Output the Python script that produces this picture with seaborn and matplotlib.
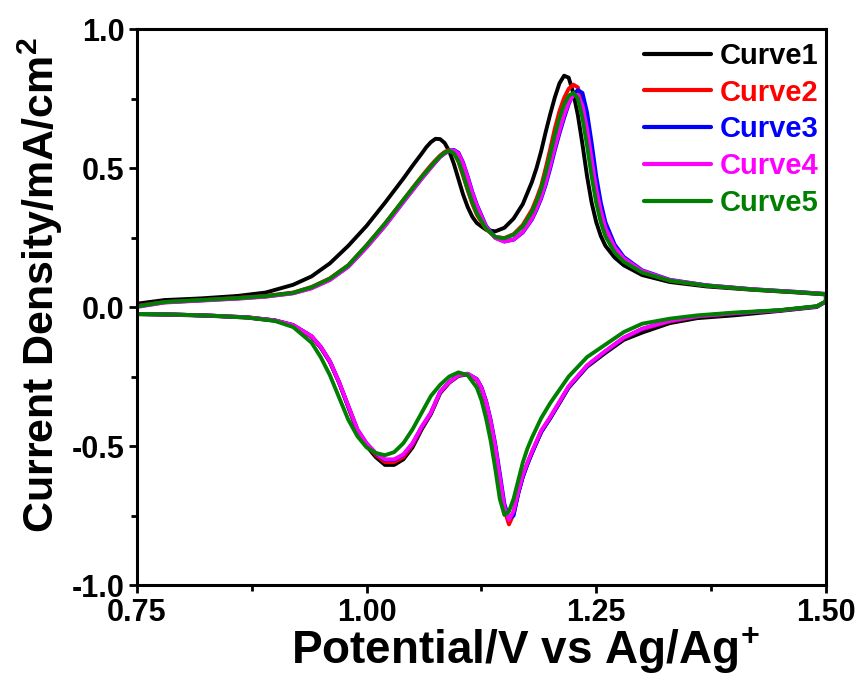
import numpy as np
import pandas as pd
import matplotlib
matplotlib.use("Agg")
import matplotlib.pyplot as plt
import seaborn as sns
from matplotlib.ticker import MultipleLocator

# ---------------- data ----------------
curve_names = ["Curve1", "Curve2", "Curve3", "Curve4", "Curve5"]
curve_colors = ["#000000", "#FF0000", "#0000FF", "#FF00FF", "#008000"]

# forward (anodic) scan potentials, V
pot_fwd = [0.75, 0.78, 0.82, 0.86, 0.89, 0.92, 0.94, 0.96, 0.98, 1.00, 1.02, 1.04,
           1.05, 1.055, 1.06, 1.065, 1.07, 1.075, 1.08, 1.085, 1.09, 1.095, 1.10, 1.105,
           1.11, 1.115, 1.12,
           1.13, 1.14, 1.15, 1.16, 1.17, 1.18,
           1.185, 1.19, 1.195, 1.20, 1.205, 1.21, 1.215, 1.22, 1.225, 1.23, 1.235, 1.24,
           1.245, 1.25, 1.255, 1.26,
           1.27, 1.28, 1.30, 1.33, 1.37, 1.42, 1.47, 1.50]

# reverse (cathodic) scan potentials, V
pot_rev = [1.50, 1.49, 1.45, 1.40, 1.36, 1.33, 1.30, 1.28, 1.26, 1.24,
           1.22, 1.20, 1.19, 1.18, 1.175, 1.17, 1.165, 1.16, 1.155, 1.15,
           1.145, 1.14, 1.135, 1.13, 1.125, 1.12, 1.11, 1.10, 1.09, 1.08,
           1.07, 1.06, 1.05, 1.04, 1.03, 1.02, 1.01, 1.00, 0.99, 0.98,
           0.97, 0.96, 0.95, 0.94, 0.92, 0.90, 0.87, 0.83, 0.79, 0.75]

# current density, mA/cm2 -- forward scans
curve1_fwd = [0.012, 0.025, 0.031, 0.040, 0.052, 0.080, 0.110, 0.157, 0.220, 0.292, 0.375, 0.462,
              0.508, 0.530, 0.552, 0.575, 0.593, 0.605, 0.604, 0.590, 0.560, 0.515, 0.460, 0.405,
              0.360, 0.325, 0.302,
              0.278, 0.272, 0.285, 0.318, 0.370, 0.450,
              0.500, 0.560, 0.630, 0.695, 0.755, 0.805, 0.832, 0.825, 0.770, 0.690, 0.585, 0.470,
              0.375, 0.305, 0.255, 0.220,
              0.178, 0.150, 0.115, 0.090, 0.074, 0.062, 0.052, 0.045]
curve2_fwd = [0.004, 0.018, 0.025, 0.033, 0.040, 0.052, 0.072, 0.103, 0.150, 0.222, 0.300, 0.385,
              0.428, 0.449, 0.470, 0.490, 0.510, 0.528, 0.545, 0.558, 0.565, 0.555, 0.522, 0.472,
              0.420, 0.372, 0.332,
              0.280, 0.252, 0.248, 0.262, 0.295, 0.350,
              0.390, 0.435, 0.500, 0.570, 0.643, 0.705, 0.752, 0.785, 0.800, 0.790, 0.725, 0.615,
              0.490, 0.385, 0.310, 0.258,
              0.198, 0.165, 0.125, 0.095, 0.077, 0.063, 0.053, 0.046]
curve3_fwd = [0.002, 0.017, 0.024, 0.031, 0.038, 0.050, 0.068, 0.098, 0.145, 0.215, 0.292, 0.378,
              0.420, 0.441, 0.462, 0.482, 0.502, 0.521, 0.540, 0.553, 0.562, 0.565, 0.555, 0.520,
              0.470, 0.415, 0.368,
              0.292, 0.250, 0.236, 0.242, 0.268, 0.315,
              0.350, 0.390, 0.440, 0.500, 0.565, 0.625, 0.680, 0.730, 0.765, 0.780, 0.770, 0.700,
              0.590, 0.470, 0.375, 0.305,
              0.225, 0.180, 0.132, 0.098, 0.078, 0.064, 0.054, 0.047]
curve4_fwd = [0.000, 0.016, 0.023, 0.030, 0.037, 0.049, 0.067, 0.097, 0.145, 0.215, 0.292, 0.378,
              0.420, 0.441, 0.462, 0.482, 0.502, 0.521, 0.540, 0.552, 0.561, 0.563, 0.552, 0.516,
              0.466, 0.411, 0.364,
              0.289, 0.248, 0.235, 0.243, 0.270, 0.318,
              0.355, 0.395, 0.448, 0.510, 0.575, 0.635, 0.690, 0.735, 0.762, 0.762, 0.725, 0.640,
              0.530, 0.425, 0.345, 0.285,
              0.215, 0.175, 0.130, 0.097, 0.078, 0.064, 0.054, 0.047]
curve5_fwd = [0.002, 0.018, 0.025, 0.032, 0.039, 0.051, 0.071, 0.102, 0.150, 0.222, 0.300, 0.385,
              0.427, 0.448, 0.468, 0.487, 0.506, 0.525, 0.542, 0.555, 0.562, 0.553, 0.525, 0.478,
              0.425, 0.378, 0.337,
              0.282, 0.252, 0.247, 0.260, 0.290, 0.342,
              0.380, 0.425, 0.485, 0.550, 0.620, 0.680, 0.728, 0.760, 0.770, 0.750, 0.680, 0.580,
              0.470, 0.375, 0.305, 0.255,
              0.196, 0.163, 0.124, 0.095, 0.077, 0.063, 0.053, 0.046]

# current density, mA/cm2 -- reverse scans
curve1_rev = [0.020, 0.000, -0.014, -0.030, -0.040, -0.058, -0.092, -0.118, -0.165, -0.215,
              -0.290, -0.400, -0.450, -0.525, -0.565, -0.610, -0.670, -0.740, -0.772, -0.728,
              -0.615, -0.505, -0.415, -0.345, -0.293, -0.262, -0.242, -0.248, -0.272, -0.310,
              -0.385, -0.440, -0.505, -0.548, -0.568, -0.568, -0.540, -0.500, -0.447, -0.360,
              -0.272, -0.198, -0.146, -0.107, -0.066, -0.049, -0.038, -0.032, -0.028, -0.026]
curve2_rev = [0.020, 0.002, -0.012, -0.023, -0.034, -0.052, -0.080, -0.112, -0.160, -0.212,
              -0.287, -0.398, -0.448, -0.523, -0.563, -0.608, -0.670, -0.745, -0.782, -0.730,
              -0.612, -0.502, -0.412, -0.342, -0.291, -0.261, -0.241, -0.246, -0.271, -0.307,
              -0.382, -0.435, -0.497, -0.540, -0.558, -0.558, -0.532, -0.495, -0.443, -0.357,
              -0.271, -0.196, -0.144, -0.106, -0.065, -0.048, -0.037, -0.031, -0.027, -0.025]
curve3_rev = [0.020, 0.002, -0.012, -0.022, -0.033, -0.050, -0.079, -0.111, -0.160, -0.212,
              -0.288, -0.398, -0.450, -0.525, -0.566, -0.612, -0.672, -0.750, -0.762, -0.708,
              -0.598, -0.492, -0.405, -0.337, -0.288, -0.259, -0.240, -0.244, -0.270, -0.306,
              -0.381, -0.432, -0.492, -0.532, -0.550, -0.550, -0.527, -0.491, -0.441, -0.356,
              -0.270, -0.195, -0.143, -0.105, -0.065, -0.048, -0.037, -0.031, -0.027, -0.025]
curve4_rev = [0.020, 0.002, -0.012, -0.022, -0.033, -0.050, -0.078, -0.110, -0.158, -0.210,
              -0.285, -0.395, -0.445, -0.520, -0.560, -0.605, -0.665, -0.735, -0.765, -0.720,
              -0.610, -0.500, -0.410, -0.340, -0.290, -0.260, -0.240, -0.245, -0.270, -0.305,
              -0.380, -0.430, -0.490, -0.530, -0.548, -0.548, -0.525, -0.490, -0.440, -0.355,
              -0.270, -0.195, -0.143, -0.105, -0.065, -0.048, -0.037, -0.031, -0.027, -0.025]
curve5_rev = [0.020, 0.003, -0.011, -0.020, -0.030, -0.042, -0.060, -0.090, -0.135, -0.180,
              -0.250, -0.345, -0.400, -0.470, -0.510, -0.560, -0.625, -0.690, -0.735, -0.748,
              -0.690, -0.580, -0.480, -0.400, -0.335, -0.290, -0.245, -0.235, -0.250, -0.280,
              -0.320, -0.380, -0.440, -0.490, -0.522, -0.533, -0.525, -0.505, -0.465, -0.405,
              -0.325, -0.245, -0.180, -0.128, -0.072, -0.050, -0.038, -0.031, -0.027, -0.025]

x_ticks = [0.75, 1.00, 1.25, 1.50]
x_tick_labels = ["0.75", "1.00", "1.25", "1.50"]
y_ticks = [-1.0, -0.5, 0.0, 0.5, 1.0]
y_tick_labels = ["-1.0", "-0.5", "0.0", "0.5", "1.0"]

fwd_all = [curve1_fwd, curve2_fwd, curve3_fwd, curve4_fwd, curve5_fwd]
rev_all = [curve1_rev, curve2_rev, curve3_rev, curve4_rev, curve5_rev]

# ---------------- build long table (closed CV loops) ----------------
rows = []
for name, fwd, rev in zip(curve_names, fwd_all, rev_all):
    pots = list(pot_fwd) + list(pot_rev) + [pot_fwd[0]]
    curs = list(fwd) + list(rev) + [fwd[0]]
    for i, (p, c) in enumerate(zip(pots, curs)):
        rows.append({"Potential": p, "Current": c, "Curve": name, "order": i})
df = pd.DataFrame(rows)

# ---------------- style ----------------
sns.set_style("ticks")
plt.rcParams["font.family"] = ["Liberation Sans", "DejaVu Sans"]
plt.rcParams["font.weight"] = "bold"
plt.rcParams["text.color"] = "black"
plt.rcParams["axes.labelcolor"] = "black"
plt.rcParams["xtick.color"] = "black"
plt.rcParams["ytick.color"] = "black"
plt.rcParams["mathtext.fontset"] = "custom"
plt.rcParams["mathtext.rm"] = "Liberation Sans:bold"
plt.rcParams["mathtext.bf"] = "Liberation Sans:bold"
plt.rcParams["mathtext.it"] = "Liberation Sans:bold"
plt.rcParams["mathtext.default"] = "bf"

fig = plt.figure(figsize=(8.63, 6.84), dpi=100)
ax = fig.add_axes([0.1587, 0.1447, 0.7983, 0.8129])

sns.lineplot(data=df, x="Potential", y="Current", hue="Curve",
             hue_order=curve_names, palette=curve_colors,
             estimator=None, sort=False,
             linewidth=2.8, ax=ax, legend=True)

ax.set_xlim(0.75, 1.50)
ax.set_ylim(-1.0, 1.0)
ax.set_xticks(x_ticks)
ax.set_xticklabels(x_tick_labels)
ax.set_yticks(y_ticks)
ax.set_yticklabels(y_tick_labels)
ax.xaxis.set_minor_locator(MultipleLocator(0.125))
ax.yaxis.set_minor_locator(MultipleLocator(0.25))

for s in ax.spines.values():
    s.set_linewidth(2.2)
    s.set_color("black")
ax.tick_params(which="major", direction="out", length=6, width=2.0,
               labelsize=22, pad=3, color="black", labelcolor="black",
               top=False, right=False)
ax.tick_params(which="minor", direction="out", length=4, width=2.0,
               color="black", top=False, right=False)
for lab in ax.get_xticklabels() + ax.get_yticklabels():
    lab.set_fontweight("bold")

ax.set_xlabel("Potential/V vs Ag/Ag$^{+}$", fontsize=33, fontweight="bold", color="black")
ax.set_ylabel("Current Density/mA/cm$^{2}$", fontsize=31, fontweight="bold", color="black")
ax.xaxis.set_label_coords(0.563, -0.072)
ax.yaxis.set_label_coords(-0.105, 0.54)

handles, labels = ax.get_legend_handles_labels()
leg = ax.legend(handles, labels, loc="upper right", bbox_to_anchor=(1.0, 0.99),
                frameon=False, prop={"weight": "bold", "size": 21}, handlelength=2.3,
                handletextpad=0.3, labelspacing=0.3, borderpad=0.2,
                borderaxespad=0.05)
for txt, col in zip(leg.get_texts(), curve_colors):
    txt.set_color(col)
for ln in leg.get_lines():
    ln.set_linewidth(3.0)

fig.savefig("out.png", dpi=100)
